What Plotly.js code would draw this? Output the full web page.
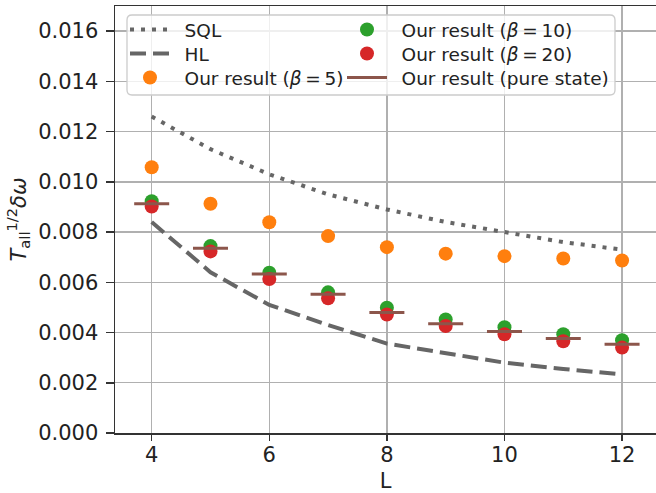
<!DOCTYPE html>
<html>
<head>
<meta charset="utf-8">
<script src="https://cdn.plot.ly/plotly-3.0.1.min.js"></script>
<style>html,body{margin:0;padding:0;background:#fff;overflow:hidden}#chart{width:656px;height:493px}</style>
</head>
<body>
<div id="chart"></div>
<script>
const L = [4, 5, 6, 7, 8, 9, 10, 11, 12];
const sql = [0.0126, 0.0113, 0.0103, 0.0095, 0.0089, 0.0084, 0.0080, 0.0076, 0.0073];
const hl = [0.0084, 0.0064, 0.0051, 0.0043, 0.00356, 0.00316, 0.0028, 0.00255, 0.00233];
const beta5 = [0.01058, 0.00913, 0.00839, 0.00784, 0.00740, 0.00714, 0.00704, 0.00695, 0.00687];
const beta10 = [0.00923, 0.00744, 0.00638, 0.00560, 0.00499, 0.00452, 0.00421, 0.00393, 0.00369];
const beta20 = [0.00902, 0.00723, 0.00613, 0.00536, 0.00472, 0.00426, 0.00393, 0.00365, 0.00340];
const pure = [0.00913, 0.00736, 0.00633, 0.00552, 0.00480, 0.00435, 0.00404, 0.00376, 0.00353];
const yTicks = [0, 0.002, 0.004, 0.006, 0.008, 0.010, 0.012, 0.014, 0.016];
const xTicks = [4, 6, 8, 10, 12];

const FONT = 'DejaVu Sans, sans-serif';
const W = 656, H = 493, ML = 115, MR = 0, MT = 6, MB = 60;
const PW = W - ML - MR, PH = H - MT - MB;
const px = v => (v - ML) / PW;
const py = v => 1 - (v - MT) / PH;
const pad = '\u00a0\u2009';

const traces = [
  {x: L, y: sql, mode: 'lines', name: pad + 'SQL', legend: 'legend',
   line: {color: '#666666', width: 4, dash: '4px,7px'}},
  {x: L, y: hl, mode: 'lines', name: pad + 'HL', legend: 'legend2',
   line: {color: '#666666', width: 4, dash: '16px,7px'}},
  {x: L, y: beta5, mode: 'markers', name: pad + 'Our result (<i>β</i>\u2009=\u20095)', legend: 'legend3',
   marker: {color: '#ff7f0e', size: 14}},
  {x: L, y: beta10, mode: 'markers', name: pad + 'Our result (<i>β</i>\u2009=\u200910)', legend: 'legend4',
   marker: {color: '#2ca02c', size: 14}},
  {x: L, y: beta20, mode: 'markers', name: pad + 'Our result (<i>β</i>\u2009=\u200920)', legend: 'legend5',
   marker: {color: '#d62728', size: 14}},
  {x: L, y: pure, mode: 'markers', name: 'Our result (pure state)', showlegend: false,
   marker: {symbol: 'line-ew', size: 25, color: '#8c564b', line: {color: '#8c564b', width: 3}}},
  {x: [null], y: [null], mode: 'lines', name: pad + 'Our result (pure state)', legend: 'legend6',
   line: {color: '#8c564b', width: 3}}
];

// legend frame (rounded)
const x0 = px(127), x1 = px(615), yT = py(15), yB = py(95);
const rx = 5 / PW, ry = 5 / PH;
const framePath = `M${x0 + rx},${yT} L${x1 - rx},${yT} Q${x1},${yT} ${x1},${yT - ry} L${x1},${yB + ry} Q${x1},${yB} ${x1 - rx},${yB} L${x0 + rx},${yB} Q${x0},${yB} ${x0},${yB + ry} L${x0},${yT - ry} Q${x0},${yT} ${x0 + rx},${yT} Z`;

const legendCommon = {
  orientation: 'v', yanchor: 'top', xanchor: 'left',
  bgcolor: 'rgba(0,0,0,0)', borderwidth: 0,
  itemwidth: 40,
  font: {family: FONT, size: 18.5, color: '#222'}
};
const mkLeg = (xp, yp) => Object.assign({}, legendCommon, {x: px(xp), y: py(yp)});
const colX = [125, 342];
const rowTop = [11, 35, 59];

const layout = {
  width: W, height: H,
  margin: {l: ML, r: MR, t: MT, b: MB},
  paper_bgcolor: '#fff', plot_bgcolor: '#fff',
  font: {family: FONT, size: 20, color: '#222'},
  showlegend: true,
  hovermode: false,
  xaxis: {
    range: [3.376, 12.577],
    tickvals: xTicks, ticktext: xTicks.map(String),
    ticks: 'outside', ticklen: 6, tickwidth: 1.5, tickcolor: '#333',
    ticklabelstandoff: -4,
    showline: true, linecolor: '#333', linewidth: 1.5, mirror: true,
    showgrid: true, gridcolor: '#b0b0b0', gridwidth: 1.4,
    zeroline: false,
    tickfont: {family: FONT, size: 21, color: '#222'},
    title: {text: 'L', font: {family: FONT, size: 21, color: '#222'}, standoff: 17}
  },
  yaxis: {
    range: [0, 0.017],
    tickvals: yTicks, ticktext: yTicks.map(v => v.toFixed(3)),
    ticks: 'outside', ticklen: 8, tickwidth: 1.5, tickcolor: '#333',
    ticklabelstandoff: 3,
    showline: true, linecolor: '#333', linewidth: 1.5, mirror: false,
    showgrid: true, gridcolor: '#b0b0b0', gridwidth: 1.4,
    zeroline: false,
    tickfont: {family: FONT, size: 21, color: '#222'},
    title: {text: '<i>T</i><sub>all</sub><sup>1/2</sup><i>δω</i>', font: {family: FONT, size: 21, color: '#222'}, standoff: 6}
  },
  shapes: [
    {type: 'path', xref: 'paper', yref: 'paper', path: framePath, layer: 'above',
     fillcolor: 'rgba(255,255,255,0.8)', line: {color: '#cccccc', width: 1.3}}
  ],
  legend: mkLeg(colX[0], rowTop[0]),
  legend2: mkLeg(colX[0], rowTop[1]),
  legend3: mkLeg(colX[0], rowTop[2]),
  legend4: mkLeg(colX[1], rowTop[0]),
  legend5: mkLeg(colX[1], rowTop[1]),
  legend6: mkLeg(colX[1], rowTop[2])
};

Plotly.newPlot('chart', traces, layout, {staticPlot: true, displayModeBar: false});
</script>
</body>
</html>
